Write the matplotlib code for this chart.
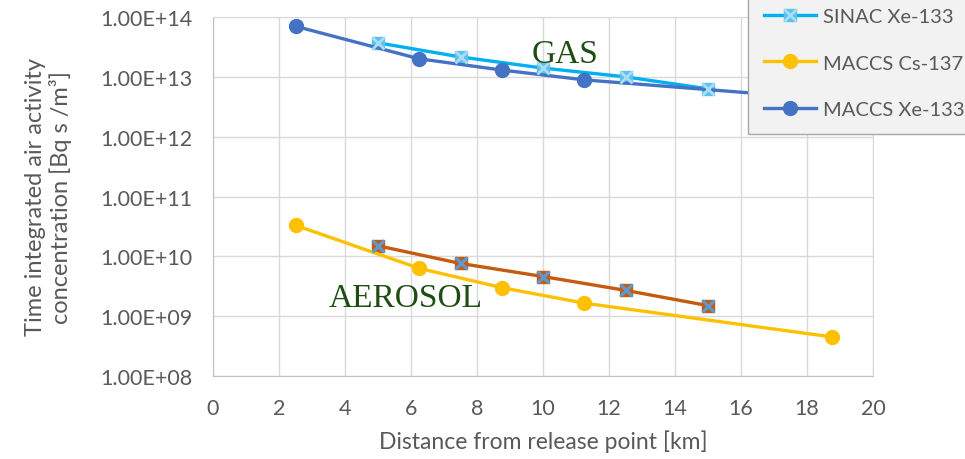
import numpy as np
import matplotlib
matplotlib.use("Agg")
import matplotlib.pyplot as plt
from matplotlib.ticker import FuncFormatter

plt.rcParams['font.family'] = ['Lato', 'DejaVu Sans']

# distances [km]
sinac_x = [5, 7.5, 10, 12.5, 15]
maccs_x = [2.5, 6.25, 8.75, 11.25, 18.75]

# time integrated air activity concentration [Bq s/m3]
sinac_cs137 = [1.5e10, 7.6e9, 4.6e9, 2.7e9, 1.5e9]
sinac_xe133 = [3.7e13, 2.15e13, 1.4e13, 1.0e13, 6.3e12]
maccs_cs137 = [3.3e10, 6.3e9, 3.0e9, 1.65e9, 4.5e8]
maccs_xe133 = [7.0e13, 2.0e13, 1.3e13, 8.9e12, 4.2e12]

xticks = list(range(0, 21, 2))
yticks = [1e8, 1e9, 1e10, 1e11, 1e12, 1e13, 1e14]

text_grey = '#595959'
grid_grey = '#D9D9D9'

fig = plt.figure(figsize=(9.65, 4.6), dpi=100)
ax = fig.add_axes([213 / 965, 83 / 460, 660 / 965, 359 / 460])

# SINAC Cs-137 (brown line, square with blue cross)
ax.plot(sinac_x, sinac_cs137, color='#C55A11', lw=2.4, marker='s', ms=9,
        mfc='#C55A11', mec='#C55A11', zorder=3)
ax.plot(sinac_x, sinac_cs137, ls='none', marker='x', ms=8, mew=2.2,
        mec='#5B9BD5', zorder=4)

# SINAC Xe-133 (light blue line, square with pale cross)
l_sx, = ax.plot(sinac_x, sinac_xe133, color='#00B0F0', lw=2.4, marker='s', ms=9,
                mfc='#5BC2EE', mec='#5BC2EE', zorder=3)
l_sx2, = ax.plot(sinac_x, sinac_xe133, ls='none', marker='x', ms=8, mew=2.0,
                 mec='#A9DCF5', zorder=4)

# MACCS
l_mc, = ax.plot(maccs_x, maccs_cs137, color='#FFC000', lw=2.4, marker='o', ms=10,
                mfc='#FFC000', mec='#FFC000', zorder=3)
l_mx, = ax.plot(maccs_x, maccs_xe133, color='#4472C4', lw=2.4, marker='o', ms=10,
                mfc='#4472C4', mec='#4472C4', zorder=3)

ax.set_yscale('log')
ax.set_xlim(0, 20)
ax.set_ylim(1e8, 1e14)
ax.set_xticks(xticks)
ax.set_yticks(yticks)
ax.minorticks_off()
ax.yaxis.set_major_formatter(FuncFormatter(lambda v, p: f"{v:.2E}"))
ax.tick_params(length=0, labelsize=15.5, colors=text_grey)
ax.tick_params(axis='y', pad=15)
ax.tick_params(axis='x', pad=16)
ax.grid(True, color=grid_grey, lw=1)
ax.set_axisbelow(True)
for s in ax.spines.values():
    s.set_color(grid_grey)
ax.spines['left'].set_color('#BFBFBF')
ax.spines['bottom'].set_color('#BFBFBF')

ax.set_xlabel('Distance from release point [km]', fontsize=16.5, color=text_grey, labelpad=8)
ax.set_ylabel('Time integrated air activity\nconcentration [Bq s /m³]', fontsize=17,
              color=text_grey, labelpad=20, linespacing=1.15)

ax.text(10.67, 2.4e13, 'GAS', family='Liberation Serif', fontsize=24,
        color='#1E4D14', ha='center', va='center', zorder=5)
ax.text(5.85, 2.0e9, 'AEROSOL', family='Liberation Serif', fontsize=24,
        color='#1E4D14', ha='center', va='center', zorder=5)

leg = ax.legend([(l_sx, l_sx2), l_mc, l_mx],
                ['SINAC Xe-133', 'MACCS Cs-137', 'MACCS Xe-133'],
                loc='upper left', bbox_to_anchor=(748 / 965, 1 + 7 / 460),
                bbox_transform=fig.transFigure, borderaxespad=0, fontsize=14.5,
                frameon=True, fancybox=False, framealpha=1, facecolor='#F2F2F2',
                edgecolor='#A6A6A6', handlelength=2.6, labelspacing=1.45,
                borderpad=0.8, handletextpad=0.3, labelcolor=text_grey)
leg.set_zorder(10)

fig.savefig('out.png', dpi=100)
